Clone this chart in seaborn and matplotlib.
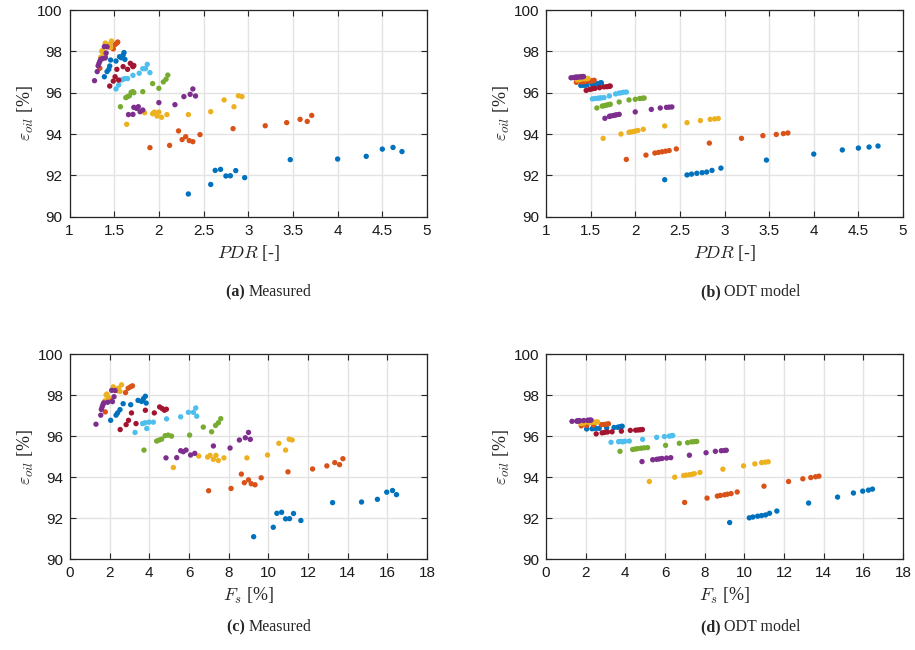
import numpy as np
import pandas as pd
import seaborn as sns
import matplotlib.pyplot as plt

# MATLAB default colour order, one entry per operating-point series
colors = ['#0072BD', '#D95319', '#EDB120', '#7E2F8E', '#77AC30', '#4DBEEE', '#A2142F',
          '#0072BD', '#D95319', '#EDB120', '#7E2F8E']

pdr = [
    [1.39, 1.42, 1.44, 1.45, 1.46, 1.52, 1.56, 1.58, 1.60, 1.61, 1.62],
    [1.34, 1.40, 1.44, 1.49, 1.51, 1.53, 1.54],
    [1.35, 1.36, 1.37, 1.38, 1.40, 1.43, 1.45, 1.46, 1.47],
    [1.28, 1.31, 1.32, 1.33, 1.34, 1.35, 1.37, 1.39, 1.40, 1.41, 1.42],
    [1.57, 1.63, 1.65, 1.67, 1.69, 1.71, 1.72, 1.82, 1.93, 2.00, 2.05, 2.08, 2.10],
    [1.52, 1.55, 1.58, 1.60, 1.62, 1.65, 1.71, 1.78, 1.82, 1.85, 1.87, 1.90],
    [1.45, 1.49, 1.51, 1.53, 1.55, 1.60, 1.65, 1.68, 1.70, 1.71, 1.72],
    [2.33, 2.58, 2.63, 2.69, 2.75, 2.80, 2.86, 2.96, 3.47, 4.00, 4.32, 4.50, 4.62, 4.72],
    [1.90, 2.12, 2.22, 2.26, 2.30, 2.34, 2.38, 2.46, 2.83, 3.19, 3.43, 3.58, 3.66, 3.71],
    [1.64, 1.84, 1.93, 1.95, 1.98, 2.00, 2.03, 2.09, 2.33, 2.58, 2.73, 2.84, 2.89, 2.93],
    [1.66, 1.71, 1.72, 1.75, 1.77, 1.79, 1.82, 2.00, 2.18, 2.28, 2.35, 2.38, 2.41],
]

fs = [
    [2.05, 2.32, 2.40, 2.52, 2.68, 3.06, 3.43, 3.61, 3.70, 3.80, 3.84],
    [1.78, 2.05, 2.40, 2.80, 2.93, 3.05, 3.15],
    [1.76, 1.82, 1.86, 1.93, 2.18, 2.32, 2.45, 2.52, 2.60],
    [1.31, 1.55, 1.58, 1.62, 1.66, 1.70, 1.90, 2.10, 2.14, 2.22, 2.27],
    [3.73, 4.37, 4.50, 4.62, 4.80, 4.95, 5.12, 6.03, 6.72, 7.14, 7.34, 7.48, 7.60],
    [3.28, 3.87, 3.66, 3.78, 3.98, 4.20, 4.87, 5.58, 5.97, 6.22, 6.34, 6.39],
    [2.53, 2.83, 2.95, 3.10, 3.33, 3.80, 4.25, 4.52, 4.65, 4.76, 4.86],
    [9.26, 10.25, 10.43, 10.67, 10.87, 11.07, 11.27, 11.64, 13.24, 14.70, 15.50, 15.97, 16.26, 16.46],
    [6.99, 8.12, 8.64, 8.79, 9.00, 9.14, 9.33, 9.64, 10.99, 12.23, 12.95, 13.35, 13.59, 13.76],
    [5.21, 6.49, 6.94, 7.06, 7.23, 7.36, 7.48, 7.76, 8.92, 9.96, 10.53, 10.87, 11.05, 11.20],
    [4.84, 5.38, 5.58, 5.71, 5.85, 6.08, 6.29, 7.23, 8.07, 8.54, 8.84, 9.00, 9.09],
]

eps_measured = [
    [96.77, 97.02, 97.13, 97.29, 97.58, 97.53, 97.74, 97.69, 97.82, 97.94, 97.61],
    [97.18, 97.75, 98.22, 98.12, 98.33, 98.40, 98.45],
    [97.72, 98.00, 98.05, 97.90, 98.40, 98.28, 98.34, 98.18, 98.50],
    [96.58, 97.02, 97.30, 97.42, 97.53, 97.62, 97.65, 98.23, 97.68, 97.92, 98.22],
    [95.32, 95.76, 95.81, 95.85, 96.02, 96.05, 96.00, 96.05, 96.44, 96.21, 96.52, 96.65, 96.85],
    [96.18, 96.37, 96.61, 96.65, 96.68, 96.68, 96.84, 96.94, 97.16, 97.16, 97.37, 96.97],
    [96.32, 96.56, 96.77, 97.13, 96.61, 97.26, 97.13, 97.42, 97.34, 97.26, 97.31],
    [91.10, 91.56, 92.24, 92.29, 91.97, 91.98, 92.23, 91.89, 92.76, 92.79, 92.92, 93.27, 93.35, 93.15],
    [93.34, 93.45, 94.15, 93.73, 93.87, 93.68, 93.63, 93.97, 94.26, 94.40, 94.55, 94.71, 94.61, 94.90],
    [94.47, 95.03, 94.98, 95.06, 94.87, 95.06, 94.81, 94.94, 94.94, 95.08, 95.65, 95.32, 95.85, 95.81],
    [94.94, 94.95, 95.29, 95.24, 95.32, 95.08, 95.16, 95.52, 95.42, 95.81, 95.92, 96.18, 95.84],
]

eps_odt = [
    [96.35, 96.36, 96.37, 96.38, 96.38, 96.40, 96.42, 96.43, 96.45, 96.47, 96.48],
    [96.50, 96.52, 96.54, 96.56, 96.57, 96.58, 96.60],
    [96.62, 96.63, 96.64, 96.64, 96.66, 96.67, 96.68, 96.68, 96.69],
    [96.72, 96.73, 96.74, 96.74, 96.75, 96.75, 96.76, 96.77, 96.77, 96.78, 96.78],
    [95.26, 95.35, 95.37, 95.39, 95.41, 95.43, 95.44, 95.55, 95.65, 95.68, 95.72, 95.73, 95.74],
    [95.70, 95.72, 95.73, 95.74, 95.75, 95.76, 95.84, 95.94, 95.98, 96.00, 96.02, 96.03],
    [96.11, 96.16, 96.18, 96.20, 96.21, 96.24, 96.28, 96.29, 96.30, 96.31, 96.32],
    [91.79, 92.02, 92.06, 92.10, 92.13, 92.16, 92.24, 92.35, 92.74, 93.03, 93.23, 93.32, 93.37, 93.42],
    [92.77, 92.98, 93.08, 93.11, 93.14, 93.17, 93.20, 93.28, 93.56, 93.79, 93.92, 93.98, 94.02, 94.05],
    [93.79, 94.00, 94.08, 94.10, 94.12, 94.14, 94.17, 94.23, 94.39, 94.55, 94.65, 94.71, 94.73, 94.75],
    [94.76, 94.85, 94.87, 94.89, 94.91, 94.93, 94.95, 95.07, 95.19, 95.26, 95.29, 95.30, 95.31],
]

captions = [('(a)', 'Measured'), ('(b)', 'ODT model'), ('(c)', 'Measured'), ('(d)', 'ODT model')]

rows = []
for g in range(len(pdr)):
    for i in range(len(pdr[g])):
        rows.append({'group': g, 'PDR': pdr[g][i], 'Fs': fs[g][i],
                     'meas': eps_measured[g][i], 'odt': eps_odt[g][i]})
df = pd.DataFrame(rows)

sns.set_style('ticks')
plt.rcParams['font.family'] = ['Liberation Sans', 'DejaVu Sans']
plt.rcParams['mathtext.fontset'] = 'cm'

fig = plt.figure(figsize=(9.15, 6.5), dpi=100)
W, H = 915, 650
boxes = [(69.5, 10, 427, 216.7), (546, 10, 903, 216.7),
         (70, 354, 427, 559.3), (546, 354, 903, 559.3)]
xcols = ['PDR', 'PDR', 'Fs', 'Fs']
ycols = ['meas', 'odt', 'meas', 'odt']
serif = ['Liberation Serif', 'DejaVu Serif']

for k in range(4):
    x0, y0, x1, y1 = boxes[k]
    ax = fig.add_axes([x0 / W, 1 - y1 / H, (x1 - x0) / W, (y1 - y0) / H])
    sns.scatterplot(data=df, x=xcols[k], y=ycols[k], hue='group', palette=colors,
                    s=15, linewidth=0, legend=False, ax=ax, zorder=3)
    if xcols[k] == 'PDR':
        ax.set_xlim(1, 5)
        ax.set_xticks(np.arange(1, 5.01, 0.5))
        ax.set_xticklabels(['1', '1.5', '2', '2.5', '3', '3.5', '4', '4.5', '5'])
        ax.set_xlabel(r'$PDR$ [-]', fontsize=13, labelpad=4, family=serif)
    else:
        ax.set_xlim(0, 18)
        ax.set_xticks(np.arange(0, 18.1, 2))
        ax.set_xlabel(r'$F_s$ [%]', fontsize=13, labelpad=4, family=serif)
    ax.set_ylim(90, 100)
    ax.set_yticks(np.arange(90, 100.1, 2))
    ax.set_ylabel(r'$\varepsilon_{oil}$ [%]', fontsize=13, labelpad=1, family=serif)
    ax.grid(True, color='#e3e3e3', linewidth=1.0, zorder=0)
    ax.set_axisbelow(True)
    for sp in ax.spines.values():
        sp.set_visible(True)
        sp.set_color('#262626')
        sp.set_linewidth(0.9)
    ax.tick_params(direction='in', length=4, width=0.8, top=True, right=True,
                   labelsize=11, colors='#262626', pad=5)
    ax.tick_params(labelcolor='#1a1a1a')

    cx = (x0 + x1) / 2 / W
    cy = 1 - (292 if k < 2 else 627) / H
    tag, name = captions[k]
    fig.text(cx, cy, tag + ' ', ha='right', va='center', fontsize=11.5,
             fontweight='bold', family=serif)
    fig.text(cx, cy, name, ha='left', va='center', fontsize=11.5, family=serif)

fig.savefig('out.png', dpi=100)
